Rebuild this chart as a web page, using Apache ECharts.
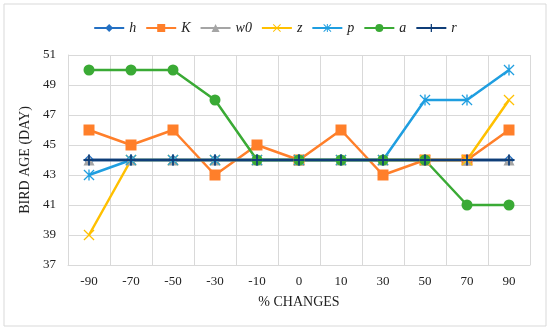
<!DOCTYPE html>
<html>
<head>
<meta charset="utf-8">
<script src="https://cdn.jsdelivr.net/npm/echarts@6/dist/echarts.min.js"></script>
<style>html,body{margin:0;padding:0;background:#fff}#c{width:550px;height:330px}</style>
</head>
<body>
<div id="c"></div>
<script>
var categories = ['-90','-70','-50','-30','-10','0','10','30','50','70','90'];
var hVals  = [44,44,44,44,44,44,44,44,44,44,44];
var KVals  = [46,45,46,43,45,44,46,43,44,44,46];
var w0Vals = [44,44,44,44,44,44,44,44,44,44,44];
var zVals  = [39,44,44,44,44,44,44,44,44,44,48];
var pVals  = [43,44,44,44,44,44,44,44,48,48,50];
var aVals  = [50,50,50,48,44,44,44,44,44,41,41];
var rVals  = [44,44,44,44,44,44,44,44,44,44,44];
var seriesNames = ['h','K','w0','z','p','a','r'];
var yMin = 37, yMax = 51, yStep = 2;

var PLUS = 'path://M4.2,0 L5.8,0 L5.8,4.2 L10,4.2 L10,5.8 L5.8,5.8 L5.8,10 L4.2,10 L4.2,5.8 L0,5.8 L0,4.2 L4.2,4.2 Z';
var CROSS = 'path://M0,0.8 L0.8,0 L5,4.2 L9.2,0 L10,0.8 L5.8,5 L10,9.2 L9.2,10 L5,5.8 L0.8,10 L0,9.2 L4.2,5 Z';
var STAR = 'path://M0,0.8 L0.8,0 L5,4.2 L9.2,0 L10,0.8 L5.8,5 L10,9.2 L9.2,10 L5,5.8 L0.8,10 L0,9.2 L4.2,5 Z M4.4,0 L5.6,0 L5.6,10 L4.4,10 Z';

var styles = {
  h:  {color:'#2470c3', symbol:'diamond', size:11},
  K:  {color:'#ff7f2a', symbol:'rect', size:11},
  w0: {color:'#a5a5a5', symbol:'triangle', size:11},
  z:  {color:'#ffc000', symbol:CROSS, size:11},
  p:  {color:'#1f9ee0', symbol:STAR, size:11},
  a:  {color:'#3aaa35', symbol:'circle', size:11},
  r:  {color:'#0f3e78', symbol:PLUS, size:11}
};
var dataMap = {h:hVals, K:KVals, w0:w0Vals, z:zVals, p:pVals, a:aVals, r:rVals};

var series = seriesNames.map(function(n){
  var s = styles[n];
  return {
    name:n, type:'line', data:dataMap[n],
    symbol:s.symbol, symbolSize:s.size, showAllSymbol:true,
    lineStyle:{color:s.color, width:2.5},
    itemStyle:{color:s.color},
    animation:false
  };
});

var chart = echarts.init(document.getElementById('c'), null, {renderer:'canvas'});
chart.setOption({
  animation:false,
  backgroundColor:'#fff',
  graphic:[{type:'rect', shape:{x:4, y:4, width:542, height:322}, style:{fill:'none', stroke:'#d9d9d9', lineWidth:1}, silent:true}],
  legend:{
    data:seriesNames, top:16, left:'center', itemWidth:30, itemHeight:10, itemGap:9,
    textStyle:{fontFamily:'Liberation Serif', fontStyle:'italic', fontSize:14, color:'#222'}
  },
  grid:{left:68, right:20, top:55, bottom:65},
  xAxis:{
    type:'category', data:categories, boundaryGap:true,
    name:'% CHANGES', nameLocation:'middle', nameGap:30,
    nameTextStyle:{fontFamily:'Liberation Serif', fontSize:14, color:'#222'},
    axisLine:{show:true, lineStyle:{color:'#d9d9d9'}},
    axisTick:{show:false},
    splitLine:{show:true, interval:0, lineStyle:{color:'#d9d9d9'}},
    axisLabel:{fontFamily:'Liberation Serif', fontSize:13, color:'#222', margin:10, interval:0}
  },
  yAxis:{
    type:'value', min:yMin, max:yMax, interval:yStep,
    name:'BIRD AGE (DAY)', nameLocation:'middle', nameGap:31,
    nameTextStyle:{fontFamily:'Liberation Serif', fontSize:14, color:'#222'},
    axisLine:{show:true, lineStyle:{color:'#d9d9d9'}},
    axisTick:{show:false},
    splitLine:{show:true, lineStyle:{color:'#d9d9d9'}},
    axisLabel:{fontFamily:'Liberation Serif', fontSize:13, color:'#222', margin:12}
  },
  series:series
});
</script>
</body>
</html>
